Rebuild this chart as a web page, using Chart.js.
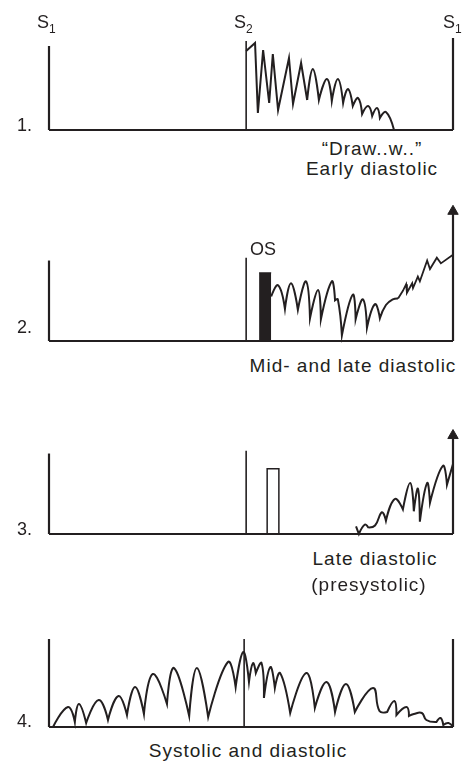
<!DOCTYPE html>
<html>
<head>
<meta charset="utf-8">
<script src="https://cdn.jsdelivr.net/npm/chart.js@4.4.0/dist/chart.umd.min.js"></script>
<style>
  body { margin: 0; background: #fff; }
  #wrap { position: relative; width: 462px; height: 763px; overflow: hidden;
          font-family: "Liberation Sans", Arial, sans-serif; color: #231f20; }
  canvas { position: absolute; left: 0; }
  .t { position: absolute; white-space: nowrap; line-height: 1; }
  .cap { font-size: 19px; letter-spacing: 1px; transform: translateX(-50%); }
  .lbl { font-size: 18px; }
  .sub { font-size: 12px; position: relative; top: 5px; }
</style>
</head>
<body>
<div id="wrap">
  <canvas id="p1" width="462" height="156" style="top:-22px"></canvas>
  <canvas id="p2" width="462" height="156" style="top:192px"></canvas>
  <canvas id="p3" width="462" height="156" style="top:385px"></canvas>
  <canvas id="p4" width="462" height="156" style="top:575px"></canvas>

  <div class="t lbl" style="left:37px;top:13px">S<span class="sub">1</span></div>
  <div class="t lbl" style="left:234px;top:13px">S<span class="sub">2</span></div>
  <div class="t lbl" style="left:443px;top:13px">S<span class="sub">1</span></div>

  <div class="t lbl" style="left:17px;top:116px">1.</div>
  <div class="t lbl" style="left:17px;top:318px">2.</div>
  <div class="t lbl" style="left:17px;top:520px">3.</div>
  <div class="t lbl" style="left:17px;top:712px">4.</div>

  <div class="t lbl" style="left:250px;top:240px">OS</div>

  <div class="t cap" style="left:372px;top:139px">“Draw..w..”</div>
  <div class="t cap" style="left:372px;top:159px">Early diastolic</div>
  <div class="t cap" style="left:353px;top:356px">Mid- and late diastolic</div>
  <div class="t cap" style="left:375px;top:549px">Late diastolic</div>
  <div class="t cap" style="left:369px;top:575px">(presystolic)</div>
  <div class="t cap" style="left:248px;top:741px">Systolic and diastolic</div>
</div>

<script>
// x: % of the cardiac cycle (S1 = 0, next S1 = 100); y: murmur amplitude
const s1Height  = [84, 85, 85, 88];     // first S1 marker, panels 1-4
const s2Pos     = [48.8, 48.8, 48.8, 48.3];
const s2Height  = [89, 88, 88, 88];
const endHeight = [92, 137, 104, 88];   // closing S1 marker (arrow in 2 and 3)

// 1. early diastolic decrescendo
const earlyZig = [[48.8,79],[51.0,87],[51.7,17],[53.0,80],[54.5,27],[55.4,76],[56.7,20],
                  [59.4,72],[60.4,26],[62.4,67],[63.9,30]];
const earlyArc = [[63.9,30],[65.3,61],[66.8,30],[68.8,51],[70.0,29],[71.5,51],[72.8,27],
                  [74.0,41],[75.2,24],[76.5,32],[77.5,16],[79.0,24],[80.0,14],[81.2,22],
                  [81.9,12],[83.4,18],[85.4,0]];

// 2. opening snap + mid/late diastolic rumble
const osBar = [[52.0,72],[55.0,72]];
const rumble = [[55.0,47],[56.7,59],[58.4,34],[59.9,61],[61.6,33],[63.6,63],[64.6,24],
                [66.6,54],[67.3,23],[70.0,63],[70.8,43],[71.5,44],[72.5,6],[75.2,49],
                [75.9,23],[77.7,44],[78.7,14],[80.7,39],[81.9,24],[83.4,38],[85.1,44],[86.4,45]];
const presys = [[86.4,45],[87.6,53],[88.4,60],[88.6,51],[89.9,61],[90.1,56],[91.3,68],
                [91.8,63],[93.6,85],[94.3,76],[96.0,88],[97.0,82],[100,91]];

// 3. late diastolic (presystolic)
const openBox = [[54.0,0],[54.0,69],[56.9,69],[56.9,0]];
const lateWave = [[76.0,8],[76.7,0],[78.2,10],[79.0,7],[80.7,9],[82.4,23],[83.4,14],
                  [85.6,37],[87.6,26],[89.4,54],[90.3,24],[91.3,48],[91.8,13],[93.6,54],
                  [94.3,33],[97.5,72],[98.5,52],[100,74]];

// 4. systolic and diastolic
const toFro = [[1.0,0],[4.7,20],[6.4,5],[7.4,23],[9.2,4],[12.3,27],[14.6,7],[17.2,31],
               [19.3,12],[21.3,40],[23.5,13],[25.7,53],[29.2,23],[30.9,59],[34.7,11],
               [36.6,59],[39.4,10],[44.3,65],[46.2,40],[48.1,75],[49.5,45],[50.5,64],
               [51.2,54],[52.6,64],[53.2,29],[54.8,60],[55.9,39],[57.2,54],[59.7,14],
               [63.7,54],[65.8,19],[68.7,45],[70.8,15],[73.5,43],[75.7,15],[80.2,39],
               [81.8,16],[83.7,15],[85.5,26],[86.0,12],[88.5,20],[89.1,11],[90.3,13],
               [92.3,14],[93.4,7],[95.9,5],[96.9,9],[97.6,2],[98.9,4],[100,0]];

const ink = '#231f20';
const xy = pairs => pairs.map(([x, y]) => ({ x, y }));

function line(pairs, width, tension) {
  return { data: xy(pairs), borderColor: ink, borderWidth: width, tension: tension || 0,
           pointRadius: 0, showLine: true, clip: false, fill: false };
}

// murmur arches: smooth crests, sharp cusps at the troughs
function arches(pairs, tension) {
  const ds = line(pairs, 2, tension);
  ds.cusps = true;
  return ds;
}

const cuspPlugin = {
  id: 'cusps',
  beforeDatasetDraw(chart, args) {
    const ds = chart.data.datasets[args.index];
    if (!ds.cusps) return;
    args.meta.dataset.updateControlPoints(chart.chartArea, 'x');
    const pts = args.meta.data;
    pts.forEach((p, k) => {
      const a = pts[k - 1], b = pts[k + 1];
      if (!a || !b || (p.y > a.y && p.y > b.y)) {
        p.cp1x = p.cp2x = p.x;
        p.cp1y = p.cp2y = p.y;
      }
    });
  }
};

function frame(i) {
  return [
    line([[0,0],[100,0]], 2.2),
    line([[0,0],[0,s1Height[i]]], 2.2),
    line([[s2Pos[i],0],[s2Pos[i],s2Height[i]]], 1.6),
    line([[100,0],[100,endHeight[i]]], 2.2)
  ];
}

function arrow(i) {
  return { data: [{ x: 100, y: endHeight[i] }], pointStyle: 'triangle', pointRadius: 6,
           backgroundColor: ink, borderColor: ink, borderWidth: 1, showLine: false, clip: false };
}

function panel(id, datasets) {
  new Chart(document.getElementById(id), {
    type: 'scatter',
    data: { datasets },
    plugins: [cuspPlugin],
    options: {
      responsive: false,
      animation: false,
      events: [],
      layout: { padding: { left: 49, right: 9, top: 2, bottom: 4 } },
      scales: {
        x: { type: 'linear', min: 0, max: 100, display: false },
        y: { type: 'linear', min: 0, max: 150, display: false }
      },
      plugins: { legend: { display: false }, tooltip: { enabled: false } }
    }
  });
}

panel('p1', [...frame(0), line(earlyZig, 2), arches(earlyArc, 0.45)]);

const snap = line(osBar, 1);
snap.fill = 'origin';
snap.backgroundColor = ink;
panel('p2', [...frame(1), snap, arches(rumble, 0.45), line(presys, 1.8), arrow(1)]);

panel('p3', [...frame(2), line(openBox, 1.5), arches(lateWave, 0.45), arrow(2)]);

panel('p4', [...frame(3), arches(toFro, 0.45)]);
</script>
</body>
</html>
